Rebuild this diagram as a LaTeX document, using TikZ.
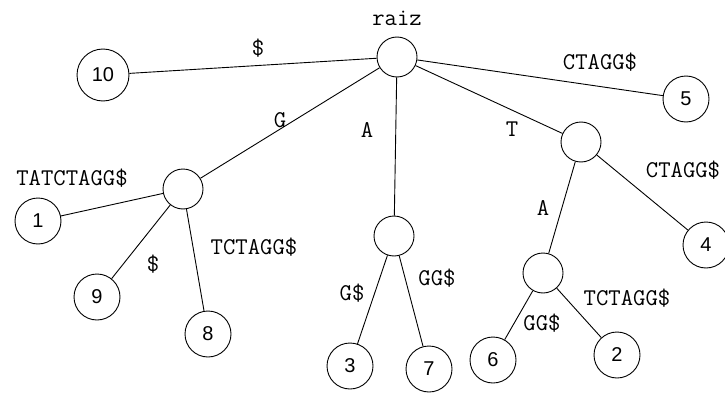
\documentclass[tikz,border=0pt]{standalone}
\usepackage{fontspec}
\setmainfont{Liberation Sans}
\usetikzlibrary{positioning}
\tikzset{
  leaf/.style={circle, draw, minimum size=46pt, inner sep=0pt, font=\fontsize{20}{24}\selectfont},
  inner/.style={circle, draw, minimum size=40pt, inner sep=0pt},
  lbl/.style={font=\ttfamily\fontsize{24}{28}\selectfont, inner sep=1pt},
}

\begin{document}
\begin{tikzpicture}[x=1pt, y=-1pt, line width=0.9pt]
\useasboundingbox (0,0) rectangle (725,396);
% internal nodes
\node[inner] (root) at (397,57) {};
\node[inner] (nG) at (183,189) {};
\node[inner] (nA) at (394,236) {};
\node[inner] (nT) at (581,142) {};
\node[inner] (nTA) at (543,273) {};
\node[lbl, above=9pt of root] (raiz) {raiz};
% leaves
\node[leaf, minimum size=52pt] (n10) at (103,75) {10};
\node[leaf] (n5) at (686,99) {5};
\node[leaf] (n1) at (38,221) {1};
\node[leaf] (n9) at (97,297) {9};
\node[leaf] (n8) at (208,334) {8};
\node[leaf] (n3) at (350,366) {3};
\node[leaf] (n7) at (429,369) {7};
\node[leaf] (n4) at (706,245) {4};
\node[leaf] (n6) at (493,360) {6};
\node[leaf] (n2) at (617,355) {2};
% edges
\draw (root) -- (n10);
\draw (root) -- (nG);
\draw (root) -- (nA);
\draw (root) -- (nT);
\draw (root) -- (n5);
\draw (nG) -- (n1);
\draw (nG) -- (n9);
\draw (nG) -- (n8);
\draw (nA) -- (n3);
\draw (nA) -- (n7);
\draw (nT) -- (nTA);
\draw (nT) -- (n4);
\draw (nTA) -- (n6);
\draw (nTA) -- (n2);
% edge labels
\node[lbl] (l10) at (258,48) {\$};
\node[lbl] (lG) at (280,120) {G};
\node[lbl] (lA) at (367,130) {A};
\node[lbl] (lT) at (512,129) {T};
\node[lbl] (l5) at (600,62) {CTAGG\$};
\node[lbl] (l1) at (72,178) {TATCTAGG\$};
\node[lbl] (l9) at (153,264) {\$};
\node[lbl] (l8) at (254,247) {TCTAGG\$};
\node[lbl] (l3) at (352,293) {G\$};
\node[lbl] (l7) at (437,278) {GG\$};
\node[lbl] (lTA) at (543,208) {A};
\node[lbl] (l4) at (683,170) {CTAGG\$};
\node[lbl] (l6) at (542,323) {GG\$};
\node[lbl] (l2) at (627,298) {TCTAGG\$};
\end{tikzpicture}
\end{document}
